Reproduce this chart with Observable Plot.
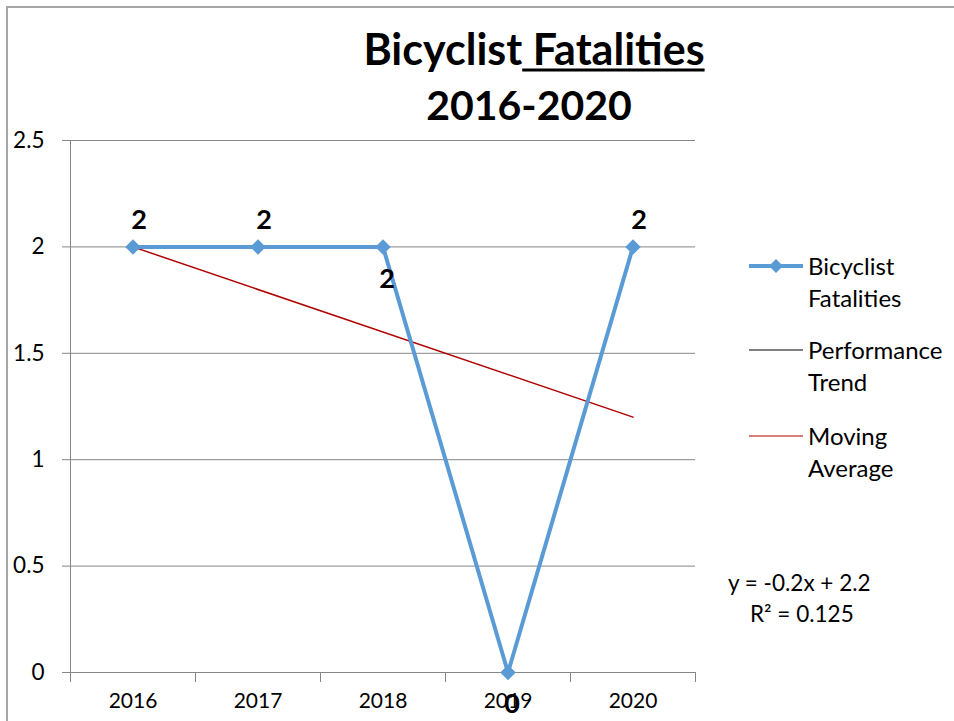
<!DOCTYPE html>
<html>
<head>
<meta charset="utf-8">
<script src="https://cdn.jsdelivr.net/npm/d3@7"></script>
<script src="https://cdn.jsdelivr.net/npm/@observablehq/plot@0.6"></script>
<style>
  html, body { margin: 0; padding: 0; background: #fff; overflow: hidden; }
  #wrap { position: relative; width: 954px; height: 721px; font-family: Lato, "Open Sans", sans-serif; color: #000; overflow: hidden; }
  #chart svg { position: absolute; left: 0; top: 0; }
  .abs { position: absolute; white-space: nowrap; }
  #border { position: absolute; left: 6px; top: 6px; width: 980px; height: 760px; border: 2px solid #a6a6a6; box-sizing: border-box; pointer-events: none; }
  .title { font-weight: bold; font-size: 41px; line-height: 1; transform: translate(-50%, -50%); }
  .leg { font-size: 24px; line-height: 32px; }
  .eq { font-size: 22.5px; line-height: 31px; }
</style>
</head>
<body>
<div id="wrap">
  <div id="chart"></div>
  <div id="border"></div>
  <div class="abs title" style="left:534px; top:48px; font-size:43px;">Bicyclist<span style="text-decoration: underline; text-decoration-thickness: 3px; text-underline-offset: 4px; white-space: pre;"> Fatalities</span></div>
  <div class="abs title" style="left:529px; top:104px;">2016-2020</div>
  <div id="legend"></div>
  <div class="abs eq" style="left:728px; top:567px;">y = -0.2x + 2.2</div>
  <div class="abs eq" style="left:750px; top:598px;">R² = 0.125</div>
</div>
<script>
// ---- data ----
const years = ["2016", "2017", "2018", "2019", "2020"];
const fatalities = [2, 2, 2, 0, 2];
const yTicks = [0, 0.5, 1, 1.5, 2, 2.5];
const labelBelow = ["2018", "2019"];
const legendNames = ["Bicyclist Fatalities", "Performance Trend", "Moving Average"];

const blue = "#5B9BD5";
const red = "#B00000";
const grid = "#868686";

const data = years.map((y, i) => ({ i: i + 1, year: y, v: fatalities[i] }));
const centers = data.map(d => d.i);
const bounds = [0.5, ...centers.map(c => c + 0.5)];

const chart = Plot.plot({
  width: 954,
  height: 721,
  marginLeft: 70,
  marginRight: 259,
  marginTop: 140,
  marginBottom: 49,
  style: { fontFamily: "Lato, 'Open Sans', sans-serif", background: "transparent", color: "#000" },
  x: { domain: [0.5, 5.5] },
  y: { domain: [0, 2.5] },
  marks: [
    Plot.ruleY(yTicks, { stroke: grid, strokeWidth: 1, insetLeft: -8 }),
    Plot.ruleX([0.5], { y1: 0, y2: 2.5, stroke: grid, strokeWidth: 1 }),
    Plot.axisY(yTicks, { tickSize: 0, tickPadding: 26, fontSize: 22.5, tickFormat: d => String(d), label: null }),
    Plot.axisX(bounds, { tickSize: 10, tickFormat: () => "", stroke: grid, label: null }),
    Plot.axisX(centers, { tickSize: 0, tickPadding: 21, fontSize: 21, tickFormat: d => years[d - 1], label: null }),
    Plot.linearRegressionY(data, { x: "i", y: "v", stroke: red, strokeWidth: 1.5, ci: 0 }),
    Plot.line(data, { x: "i", y: "v", stroke: blue, strokeWidth: 4 }),
    Plot.dot(data, { x: "i", y: "v", symbol: "diamond2", fill: blue, stroke: "none", r: 7 }),
    Plot.text(data.filter(d => !labelBelow.includes(d.year)), { x: "i", y: "v", text: d => String(d.v), dx: 6, dy: -27, fontSize: 27, fontWeight: "bold" }),
    Plot.text(data.filter(d => labelBelow.includes(d.year)), { x: "i", y: "v", text: d => String(d.v), dx: 4, dy: 32, fontSize: 27, fontWeight: "bold" })
  ]
});
document.getElementById("chart").appendChild(chart);

// legend
const legend = document.getElementById("legend");
const swatch = [
  `<svg width="54" height="20"><line x1="0" y1="10" x2="54" y2="10" stroke="${blue}" stroke-width="4"/><path d="M27 3 L34 10 L27 17 L20 10 Z" fill="${blue}"/></svg>`,
  `<svg width="54" height="20"><line x1="0" y1="10" x2="54" y2="10" stroke="#000" stroke-width="1"/></svg>`,
  `<svg width="54" height="20"><line x1="0" y1="10" x2="54" y2="10" stroke="${red}" stroke-width="1"/></svg>`
];
const legTops = [250, 334, 420];
legendNames.forEach((name, k) => {
  const parts = name.split(" ");
  const sw = document.createElement("div");
  sw.className = "abs";
  sw.style.left = "749px";
  sw.style.top = (legTops[k] + 6) + "px";
  sw.innerHTML = swatch[k];
  legend.appendChild(sw);
  const tx = document.createElement("div");
  tx.className = "abs leg";
  tx.style.left = "808px";
  tx.style.top = legTops[k] + "px";
  tx.innerHTML = parts.join("<br>");
  legend.appendChild(tx);
});
</script>
</body>
</html>
